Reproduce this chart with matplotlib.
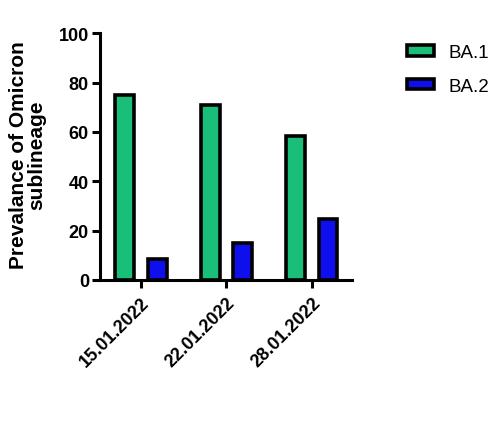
import numpy as np
import matplotlib.pyplot as plt
from matplotlib.patches import Patch

plt.rcParams['font.family'] = ['Liberation Sans', 'DejaVu Sans']

dates = ['15.01.2022', '22.01.2022', '28.01.2022']
ba1 = [75, 71, 58.5]
ba2 = [8.5, 15, 24.5]
series_names = ['BA.1', 'BA.2']
colors = ['#19BE78', '#0F0FEE']

fig = plt.figure(figsize=(4.95, 4.27), dpi=100)
ax = fig.add_axes([0.202, 0.342, 0.509, 0.578])

x = np.arange(len(dates))
w = 0.22
ax.bar(x - 0.19, ba1, w, color=colors[0], edgecolor='black', linewidth=2.6)
ax.bar(x + 0.19, ba2, w, color=colors[1], edgecolor='black', linewidth=2.6)

ax.set_xlim(-0.48, 2.47)
ax.set_ylim(0, 100)
ax.set_yticks(range(0, 101, 20))
ax.set_xticks(x)
ax.set_xticklabels(dates, rotation=45, ha='right', rotation_mode='anchor',
                   fontsize=13, fontweight='bold')
for lab in ax.get_yticklabels():
    lab.set_fontsize(13)
    lab.set_fontweight('bold')

for s in ['top', 'right']:
    ax.spines[s].set_visible(False)
for s in ['left', 'bottom']:
    ax.spines[s].set_linewidth(2.2)
ax.tick_params(width=2.2, length=6, pad=2)
ax.tick_params(axis='x', pad=4)

ax.set_ylabel('Prevalance of Omicron\nsublineage', fontsize=15, fontweight='bold',
              linespacing=0.95)
ax.yaxis.set_label_coords(-0.215, 0.51)

handles = [Patch(facecolor=c, edgecolor='black', linewidth=2.6) for c in colors]
fig.legend(handles, series_names, loc='upper left', bbox_to_anchor=(0.807, 0.912),
           borderaxespad=0, frameon=False, fontsize=13.5, handlelength=1.44,
           handleheight=0.48, labelspacing=0.88, handletextpad=0.75)

fig.savefig('out.png', dpi=100)
